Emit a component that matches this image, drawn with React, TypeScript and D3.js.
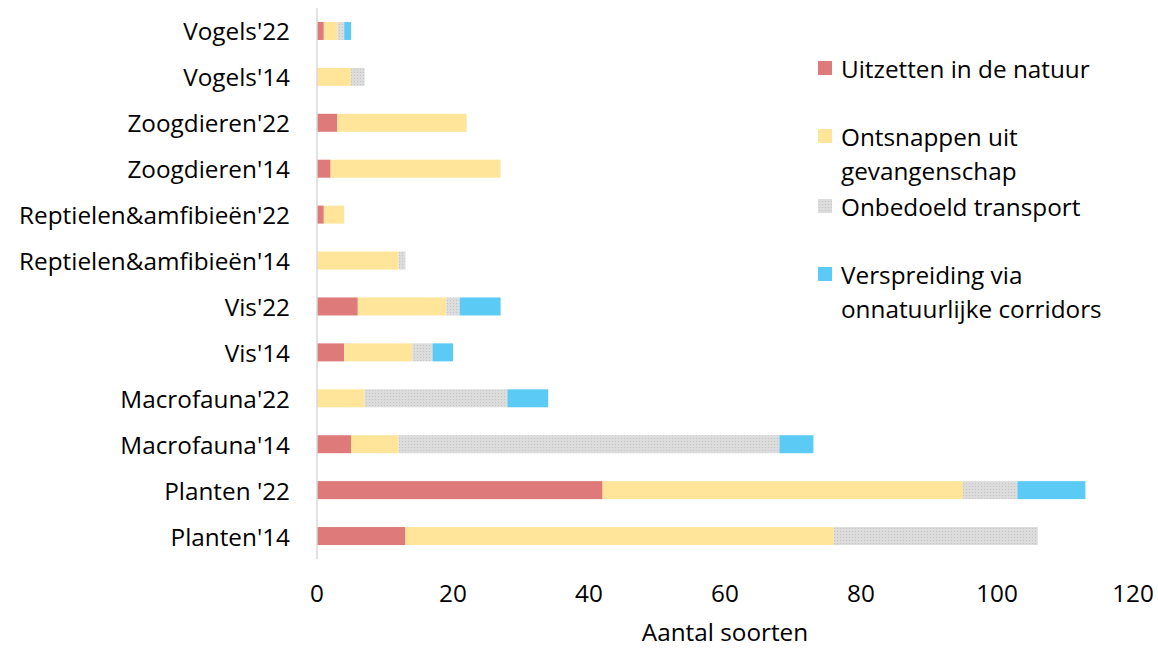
import React from "react";
import * as d3 from "d3";

const categories = [
  "Vogels'22",
  "Vogels'14",
  "Zoogdieren'22",
  "Zoogdieren'14",
  "Reptielen&amfibieën'22",
  "Reptielen&amfibieën'14",
  "Vis'22",
  "Vis'14",
  "Macrofauna'22",
  "Macrofauna'14",
  "Planten '22",
  "Planten'14",
];

const seriesNames = [
  "Uitzetten in de natuur",
  "Ontsnappen uit gevangenschap",
  "Onbedoeld transport",
  "Verspreiding via onnatuurlijke corridors",
];

const uitzetten = [1, 0, 3, 2, 1, 0, 6, 4, 0, 5, 42, 13];
const ontsnappen = [2, 5, 19, 25, 3, 12, 13, 10, 7, 7, 53, 63];
const onbedoeld = [1, 2, 0, 0, 0, 1, 2, 3, 21, 56, 8, 30];
const verspreiding = [1, 0, 0, 0, 0, 0, 6, 3, 6, 5, 10, 0];

const xTicks = [0, 20, 40, 60, 80, 100, 120];

const legendLines = [
  ["Uitzetten in de natuur"],
  ["Ontsnappen uit", "gevangenschap"],
  ["Onbedoeld transport"],
  ["Verspreiding via", "onnatuurlijke corridors"],
];

const colors = ["#DF7A7A", "#FFE599", "url(#dotGray)", "#5BCBF5"];

export default function App() {
  const W = 1158;
  const H = 648;
  const font = "'Open Sans', 'Liberation Sans', Arial, sans-serif";
  const fs = 24.3;

  const x = d3.scaleLinear().domain([0, 120]).range([317, 1133]);
  const y = d3
    .scaleBand<string>()
    .domain(categories)
    .range([8, 559])
    .paddingInner(0.608)
    .paddingOuter(0.304);

  const rows = categories.map((c, i) => ({
    cat: c,
    a: uitzetten[i],
    b: ontsnappen[i],
    c2: onbedoeld[i],
    d: verspreiding[i],
  }));
  const stack = d3.stack<any>().keys(["a", "b", "c2", "d"]);
  const stacked = stack(rows);

  const legendY = [68, 136, 206, 274];

  return (
    <svg
      width={W}
      height={H}
      style={{ position: "absolute", left: 0, top: 0, background: "#fff" }}
      fontFamily={font}
    >
      <defs>
        <pattern id="dotGray" width="3" height="3" patternUnits="userSpaceOnUse">
          <rect width="3" height="3" fill="#DCDCDC" />
          <rect x="0" y="0" width="1" height="1" fill="#C4C4C4" />
        </pattern>
      </defs>
      <rect width={W} height={H} fill="#fff" />
      {stacked.map((s, si) => (
        <g key={si}>
          {s.map((d, i) =>
            d[1] - d[0] > 0 ? (
              <rect
                key={i}
                x={x(d[0])}
                y={y(categories[i])}
                width={x(d[1]) - x(d[0])}
                height={y.bandwidth()}
                fill={colors[si]}
              />
            ) : null
          )}
        </g>
      ))}
      <line x1={x(0)} x2={x(0)} y1={8} y2={559} stroke="#D9D9D9" strokeWidth={1.5} />
      {categories.map((c) => (
        <text
          key={c}
          x={290}
          y={(y(c) as number) + y.bandwidth() / 2}
          textAnchor="end"
          dominantBaseline="central"
          fontSize={fs}
          fill="#000"
        >
          {c}
        </text>
      ))}
      {xTicks.map((t) => (
        <text
          key={t}
          x={x(t)}
          y={592}
          textAnchor="middle"
          dominantBaseline="central"
          fontSize={fs}
          fill="#000"
        >
          {t}
        </text>
      ))}
      <text x={725} y={631} textAnchor="middle" dominantBaseline="central" fontSize={fs} fill="#000">
        Aantal soorten
      </text>
      {legendLines.map((lines, i) => (
        <g key={i}>
          <rect x={818} y={legendY[i] - 7} width={14} height={14} fill={colors[i]} />
          {lines.map((l, j) => (
            <text
              key={j}
              x={841}
              y={legendY[i] + j * 34}
              dominantBaseline="central"
              fontSize={fs}
              fill="#000"
            >
              {l}
            </text>
          ))}
        </g>
      ))}
    </svg>
  );
}
